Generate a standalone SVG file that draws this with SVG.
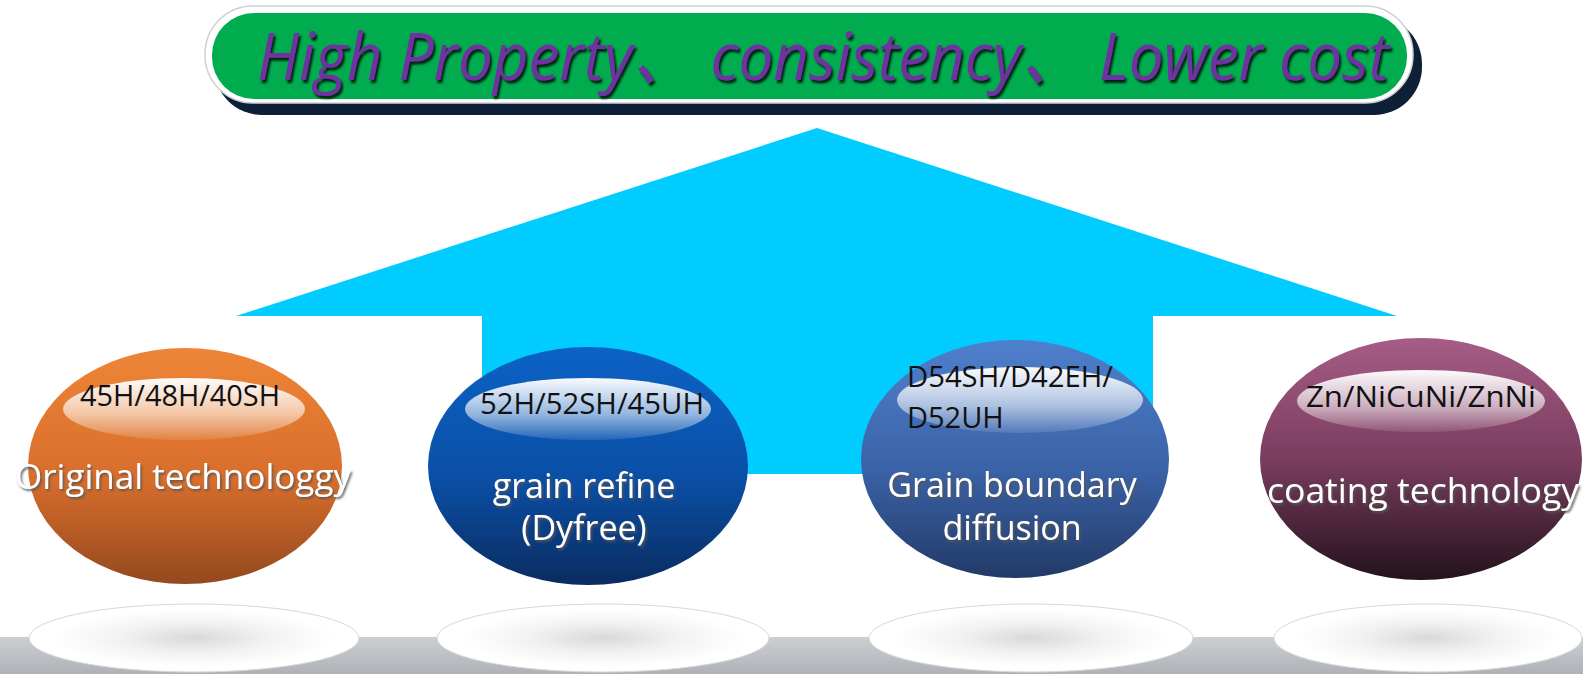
<svg xmlns="http://www.w3.org/2000/svg" width="1583" height="674" viewBox="0 0 1583 674">
<defs>
<linearGradient id="gOrange" x1="0" y1="0" x2="0" y2="1"><stop offset="0" stop-color="#EE8536"/><stop offset="0.55" stop-color="#D86E2C"/><stop offset="1" stop-color="#94491E"/></linearGradient>
<linearGradient id="gBlue" x1="0" y1="0" x2="0" y2="1"><stop offset="0" stop-color="#0C62C6"/><stop offset="0.55" stop-color="#0A4FA6"/><stop offset="1" stop-color="#0A2C60"/></linearGradient>
<linearGradient id="gSteel" x1="0" y1="0" x2="0" y2="1"><stop offset="0" stop-color="#4F80CC"/><stop offset="0.55" stop-color="#3A62A6"/><stop offset="1" stop-color="#223A68"/></linearGradient>
<linearGradient id="gPlum" x1="0" y1="0" x2="0" y2="1"><stop offset="0" stop-color="#A65C86"/><stop offset="0.5" stop-color="#7A3D5E"/><stop offset="1" stop-color="#24121C"/></linearGradient>
<linearGradient id="gHi" x1="0" y1="0" x2="0" y2="1"><stop offset="0" stop-color="#FFFFFF" stop-opacity="0.97"/><stop offset="0.6" stop-color="#FFFFFF" stop-opacity="0.55"/><stop offset="1" stop-color="#FFFFFF" stop-opacity="0.1"/></linearGradient>
<radialGradient id="gShadow" cx="0.5" cy="0.5" r="0.5"><stop offset="0" stop-color="#D9D9D9"/><stop offset="0.45" stop-color="#F2F2F2"/><stop offset="0.85" stop-color="#FFFFFF"/><stop offset="1" stop-color="#FFFFFF"/></radialGradient>
<linearGradient id="gFloor" x1="0" y1="0" x2="0" y2="1"><stop offset="0" stop-color="#CCCFD2"/><stop offset="1" stop-color="#AEB2B7"/></linearGradient>
<filter id="fTitle" x="-5%" y="-20%" width="110%" height="150%"><feDropShadow dx="2" dy="3" stdDeviation="1.2" flood-color="#000000" flood-opacity="0.8"/></filter>
<filter id="fWhite" x="-5%" y="-20%" width="110%" height="150%"><feDropShadow dx="1.5" dy="2" stdDeviation="0.8" flood-color="#555555" flood-opacity="0.9"/></filter>
</defs>
<style>
.lbl{font-family:"Open Sans","Liberation Sans",sans-serif;font-size:29px;fill:#111111}
.main{font-family:"Open Sans","Liberation Sans",sans-serif;font-size:34px;fill:#FFFFFF;filter:url(#fWhite);text-anchor:middle}
.shadowEl{fill:url(#gShadow);stroke:#D8D8D8;stroke-width:1}
</style>
<rect width="1583" height="674" fill="#FFFFFF"/>
<rect x="0" y="637" width="1583" height="37" fill="url(#gFloor)"/>

<g id="banner">
<rect x="214" y="16" width="1208" height="99" rx="48" fill="#0E1F38"/>
<rect x="205" y="6" width="1208" height="97" rx="48" fill="#FFFFFF" stroke="#D0D0D0" stroke-width="1.5"/>
<rect x="212" y="13" width="1195" height="86" rx="42" fill="#00AC4E"/>
<text x="257" y="80" font-family="'Open Sans','Noto Sans CJK SC',sans-serif" font-style="italic" font-size="66" fill="#7030A0" filter="url(#fTitle)" textLength="1132" lengthAdjust="spacingAndGlyphs">High Property、 consistency、 Lower cost</text>
</g>

<g id="arrow">
<polygon points="817,128 1397,316 1153,316 1153,474 482,474 482,316 236,316" fill="#00CCFF"/>
</g>

<g id="connectors"></g>

<g id="shadows">
<ellipse class="shadowEl" cx="194" cy="638" rx="165" ry="34"/>
<ellipse class="shadowEl" cx="603" cy="638" rx="166" ry="34"/>
<ellipse class="shadowEl" cx="1031" cy="638" rx="162" ry="34"/>
<ellipse class="shadowEl" cx="1428" cy="638" rx="154" ry="34"/>
</g>

<g id="node-original">
<ellipse cx="185" cy="466" rx="157" ry="118" fill="url(#gOrange)"/>
<ellipse cx="184" cy="409" rx="121" ry="31" fill="url(#gHi)"/>
<text class="lbl" x="180" y="406" text-anchor="middle" textLength="200" lengthAdjust="spacingAndGlyphs">45H/48H/40SH</text>
<text class="main" x="183" y="489" textLength="336" lengthAdjust="spacingAndGlyphs">Original technologgy</text>
</g>

<g id="node-grain-refine">
<ellipse cx="588" cy="466" rx="160" ry="119" fill="url(#gBlue)"/>
<ellipse cx="588" cy="409" rx="123" ry="31" fill="url(#gHi)"/>
<text class="lbl" x="592" y="414" text-anchor="middle" textLength="224" lengthAdjust="spacingAndGlyphs">52H/52SH/45UH</text>
<text class="main" x="584" y="498">grain refine</text>
<text class="main" x="584" y="540">(Dyfree)</text>
</g>

<g id="node-gbd">
<ellipse cx="1015" cy="459" rx="154" ry="119" fill="url(#gSteel)"/>
<ellipse cx="1020" cy="400" rx="123" ry="33" fill="url(#gHi)"/>
<text class="lbl" x="907" y="387" textLength="206" lengthAdjust="spacingAndGlyphs">D54SH/D42EH/</text>
<text class="lbl" x="907" y="428">D52UH</text>
<text class="main" x="1012" y="497">Grain boundary</text>
<text class="main" x="1012" y="540">diffusion</text>
</g>

<g id="node-coating">
<ellipse cx="1421" cy="459" rx="161" ry="121" fill="url(#gPlum)"/>
<ellipse cx="1421" cy="401" rx="124" ry="31" fill="url(#gHi)"/>
<text class="lbl" x="1421" y="407" text-anchor="middle" textLength="230" lengthAdjust="spacingAndGlyphs">Zn/NiCuNi/ZnNi</text>
<text class="main" x="1423" y="503" textLength="312" lengthAdjust="spacingAndGlyphs">coating technology</text>
</g>
</svg>
